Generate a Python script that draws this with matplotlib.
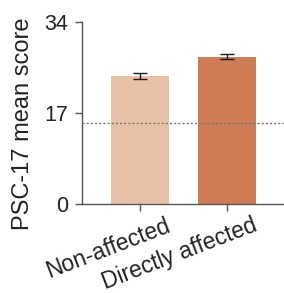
import matplotlib
matplotlib.use("Agg")
import matplotlib.pyplot as plt
import matplotlib.transforms as mtransforms

categories = ["Non-affected", "Directly affected"]
means = [23.9, 27.5]
errors = [0.5, 0.45]
threshold = 15.2
yticks = [0, 17, 34]
colors = ["#E8C1A6", "#CD7C56"]

plt.rcParams['font.family'] = ['Liberation Sans', 'DejaVu Sans']
fig = plt.figure(figsize=(2.84, 2.93), dpi=100)
ax = fig.add_axes([81.7/284, (293-204)/293, (284-81.7)/284, 182/293])

x = list(range(len(categories)))
ax.bar(x, means, width=0.66, color=colors, zorder=2)
ax.errorbar(x, means, yerr=errors, fmt='none', ecolor='#1a1a1a', elinewidth=1.0,
            capsize=5, capthick=1.0, zorder=3)
ax.axhline(threshold, color='#777777', linestyle=(0, (1.5, 1.5)), linewidth=1.0, zorder=4)

ax.set_ylim(0, 34)
ax.set_xlim(-0.667, 1.65)

for s in ['top', 'right']:
    ax.spines[s].set_visible(False)
for s in ['left', 'bottom']:
    ax.spines[s].set_color('#555555')
    ax.spines[s].set_linewidth(1.0)
ax.tick_params(axis='both', colors='#555555', labelcolor='#222222', length=5, width=1.0)
ax.tick_params(axis='y', pad=5)

ax.set_yticks(yticks)
ax.set_yticklabels([str(t) for t in yticks], fontsize=15.5)
ax.set_xticks(x)
ax.set_xticklabels(categories, fontsize=16.5, rotation=21, ha='right', va='top',
                   rotation_mode='anchor')
offset = mtransforms.ScaledTranslation(25/100, 2/100, fig.dpi_scale_trans)
for lab in ax.get_xticklabels():
    lab.set_transform(lab.get_transform() + offset)

ax.set_ylabel("PSC-17 mean score", fontsize=17, color='#222222')
ax.yaxis.label.set_va('center')
ax.yaxis.label.set_ha('center')
ax.yaxis.set_label_coords(-0.29, 0.442)

fig.savefig("out.png", dpi=100)
